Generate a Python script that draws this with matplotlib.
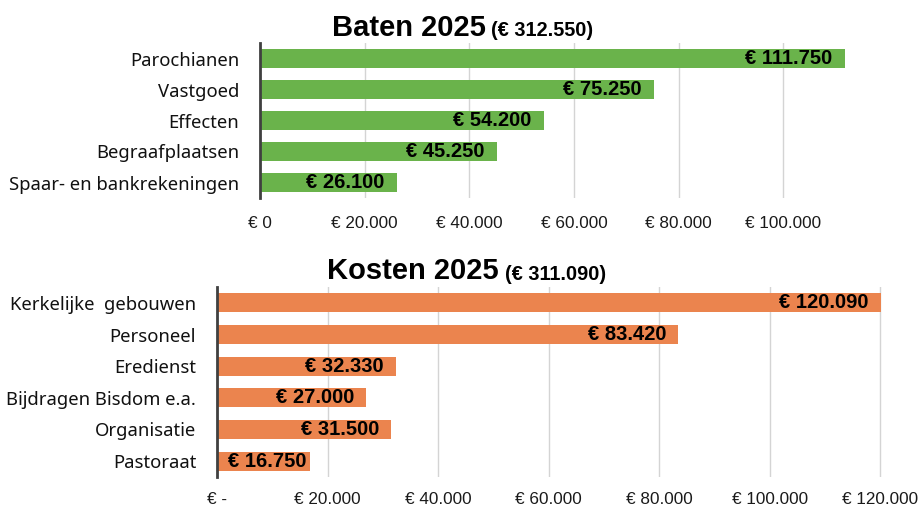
import matplotlib.pyplot as plt

baten_cats = ["Parochianen", "Vastgoed", "Effecten", "Begraafplaatsen", "Spaar- en bankrekeningen"]
baten_vals = [111750, 75250, 54200, 45250, 26100]
baten_ticks = [0, 20000, 40000, 60000, 80000, 100000]
baten_ticklabels = ["€ 0", "€ 20.000", "€ 40.000", "€ 60.000", "€ 80.000", "€ 100.000"]

kosten_cats = ["Kerkelijke  gebouwen", "Personeel", "Eredienst", "Bijdragen Bisdom e.a.", "Organisatie", "Pastoraat"]
kosten_vals = [120090, 83420, 32330, 27000, 31500, 16750]
kosten_ticks = [0, 20000, 40000, 60000, 80000, 100000, 120000]
kosten_ticklabels = ["€ -", "€ 20.000", "€ 40.000", "€ 60.000", "€ 80.000", "€ 100.000", "€ 120.000"]

W, H = 921, 509


def euro(v):
    return "€ " + f"{v:,.0f}".replace(",", ".")


def px(x0, y0, x1, y1):
    # pixel box (top-left origin) -> figure fraction rect
    return [x0 / W, 1 - y1 / H, (x1 - x0) / W, (y1 - y0) / H]


def draw(ax, cats, vals, ticks, ticklabels, color, xmax, xpad):
    y = list(range(len(cats)))
    ax.barh(y, vals, height=0.6, color=color, zorder=2)
    ax.set_ylim(len(cats) - 0.5, -0.5)
    ax.set_xlim(0, xmax)
    ax.set_yticks(y)
    ax.set_yticklabels(cats, fontsize=13.3, family="Noto Sans", color="#111111")
    ax.set_xticks(ticks)
    ax.set_xticklabels(ticklabels, fontsize=12.3, family="Liberation Sans", color="#1a1a1a")
    ax.tick_params(axis="y", length=0, pad=15)
    ax.tick_params(axis="x", length=0, pad=xpad)
    ax.grid(axis="x", color="#d4d4d4", linewidth=1, zorder=0)
    for s in ["top", "right", "bottom"]:
        ax.spines[s].set_visible(False)
    ax.spines["left"].set_color("#404040")
    ax.spines["left"].set_linewidth(2)
    ax.spines["left"].set_zorder(3)
    labels = []
    for yi, v in zip(y, vals):
        t = ax.annotate(euro(v), xy=(v, yi), xytext=(-12, 0), textcoords="offset pixels",
                        ha="right", va="center", fontsize=14.5, fontweight="bold",
                        family="Liberation Sans", color="black", zorder=4)
        labels.append((t, v, yi))
    return labels


fig = plt.figure(figsize=(W / 100, H / 100), dpi=100)

ax1 = fig.add_axes(px(260, 43, 846, 198))
lab1 = draw(ax1, baten_cats, baten_vals, baten_ticks, baten_ticklabels, "#6ab34b", 112000, 13)

ax2 = fig.add_axes(px(217, 287, 882, 477))
lab2 = draw(ax2, kosten_cats, kosten_vals, kosten_ticks, kosten_ticklabels, "#eb844e", 120300, 11)

# labels that do not fit inside the bar end get centred on the bar
fig.canvas.draw()
for ax, labs in [(ax1, lab1), (ax2, lab2)]:
    left = ax.get_window_extent().x0
    for t, v, yi in labs:
        if t.get_window_extent().x0 < left + 8:
            t.xy = (v / 2, yi)
            t.set_position((4, 0))
            t.set_ha("center")

fig.text(332 / W, 1 - 36 / H, "Baten 2025", fontsize=21, fontweight="bold",
         family="Liberation Sans", va="baseline", ha="left")
fig.text(491 / W, 1 - 36 / H, "(€ 312.550)", fontsize=14.3, fontweight="bold",
         family="Liberation Sans", va="baseline", ha="left")
fig.text(327 / W, 1 - 279 / H, "Kosten 2025", fontsize=21, fontweight="bold",
         family="Liberation Sans", va="baseline", ha="left")
fig.text(505 / W, 1 - 280 / H, "(€ 311.090)", fontsize=14.3, fontweight="bold",
         family="Liberation Sans", va="baseline", ha="left")

fig.savefig("out.png", dpi=100)
